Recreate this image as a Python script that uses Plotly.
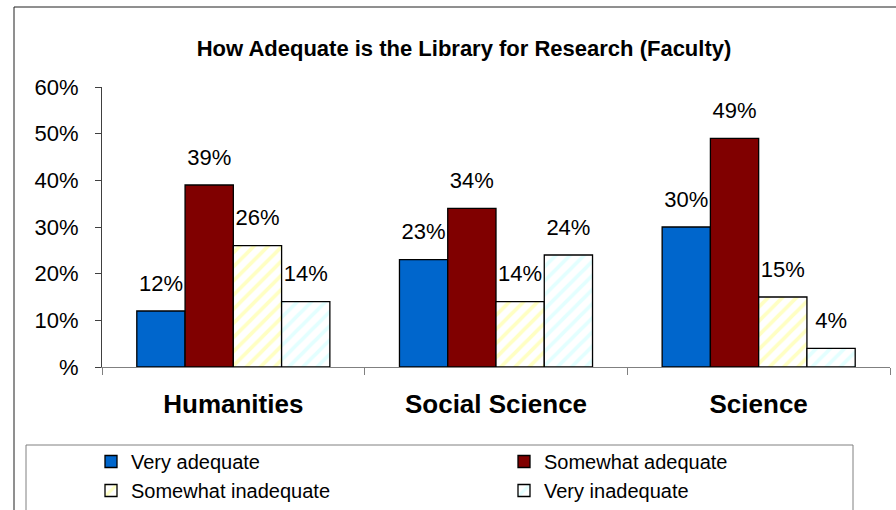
import plotly.graph_objects as go

categories = ["Humanities", "Social Science", "Science"]
series_names = ["Very adequate", "Somewhat adequate", "Somewhat inadequate", "Very inadequate"]
very_adequate = [12, 23, 30]
somewhat_adequate = [39, 34, 49]
somewhat_inadequate = [26, 14, 15]
very_inadequate = [14, 24, 4]
y_tick_vals = [0, 10, 20, 30, 40, 50, 60]
y_tick_text = ["%", "10%", "20%", "30%", "40%", "50%", "60%"]

series_values = [very_adequate, somewhat_adequate, somewhat_inadequate, very_inadequate]
legend_ids = ["legend", "legend2", "legend", "legend2"]
fills = [
    dict(color="#0066CC"),
    dict(color="#800000"),
    dict(color="white", pattern=dict(shape="/", fgcolor="#FFFF88", bgcolor="white", size=10, solidity=0.38)),
    dict(color="white", pattern=dict(shape="/", fgcolor="#C8FFFF", bgcolor="white", size=10, solidity=0.38)),
]

FONT = "Liberation Sans, Arial, sans-serif"
W, H = 896, 510
L, R, T, B = 102, 6, 87, 143
pw, ph = W - L - R, H - T - B

def px2x(px):
    return (px - L) / pw

def py2y(py):
    return (H - B - py) / ph

fig = go.Figure()
for name, vals, f, lg in zip(series_names, series_values, fills, legend_ids):
    fig.add_trace(go.Bar(
        x=categories, y=vals, name=name, legend=lg,
        marker=dict(**f, line=dict(color="black", width=1.3)),
        hoverinfo="skip",
    ))
for name, vals in zip(series_names, series_values):
    fig.add_trace(go.Scatter(
        x=categories, y=vals, mode="markers+text",
        text=[f"{v}%" for v in vals], textposition="top center",
        textfont=dict(family=FONT, size=22, color="black"),
        marker=dict(size=22, color="rgba(0,0,0,0)"),
        showlegend=False, hoverinfo="skip", cliponaxis=False,
    ))

legend_common = dict(orientation="v", xref="paper", yref="paper",
                     xanchor="left", yanchor="top", y=py2y(442),
                     font=dict(family=FONT, size=20, color="black"),
                     bgcolor="rgba(0,0,0,0)", borderwidth=0, tracegroupgap=0)

fig.update_layout(
    width=W, height=H,
    margin=dict(l=L, r=R, t=T, b=B, autoexpand=False),
    paper_bgcolor="white", plot_bgcolor="white",
    barmode="group", bargap=0.265, bargroupgap=0,
    scattermode="group", scattergap=0.265,
    font=dict(family=FONT, color="black"),
    title=dict(text="<b>How Adequate is the Library for Research (Faculty)</b>",
               x=464 / W, xanchor="center", y=1 - 48 / H, yanchor="middle",
               font=dict(family=FONT, size=22, color="black")),
    showlegend=True,
    legend=dict(**legend_common, x=px2x(91)),
    legend2=dict(**legend_common, x=px2x(504)),
    xaxis=dict(type="category", showline=True, linecolor="#808080", linewidth=1,
               ticks="outside", tickson="boundaries", ticklen=7, tickcolor="#808080",
               showgrid=False, ticklabelstandoff=14,
               tickfont=dict(family=FONT, size=26, color="black", weight="bold")),
    yaxis=dict(range=[0, 60], tickvals=y_tick_vals, ticktext=y_tick_text,
               showline=True, linecolor="#404040", linewidth=1,
               ticks="outside", ticklen=6, tickcolor="#404040",
               showgrid=False, zeroline=False, ticklabelstandoff=12,
               tickfont=dict(family=FONT, size=22, color="black")),
    shapes=[
        dict(type="rect", xref="paper", yref="paper",
             x0=px2x(14), x1=px2x(900), y0=py2y(515), y1=py2y(7),
             line=dict(color="#202020", width=1), fillcolor="rgba(0,0,0,0)", layer="below"),
        dict(type="rect", xref="paper", yref="paper",
             x0=px2x(26), x1=px2x(853), y0=py2y(520), y1=py2y(445),
             line=dict(color="#808080", width=1), fillcolor="rgba(0,0,0,0)", layer="below"),
    ],
)

fig.write_html("out.html")
